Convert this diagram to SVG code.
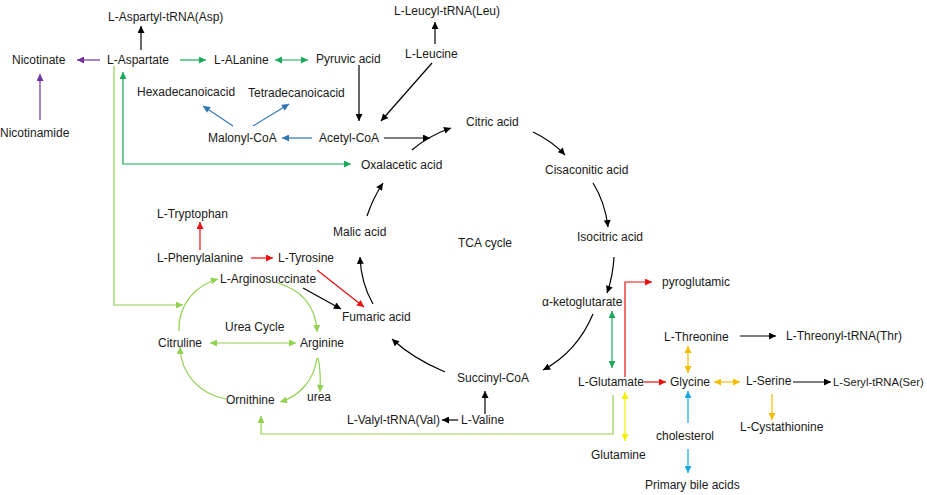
<svg xmlns="http://www.w3.org/2000/svg" width="927" height="495" viewBox="0 0 927 495">
<defs>
<style>
text{font-family:"Liberation Sans",Arial,sans-serif;font-size:12px;fill:#1a1a1a}
.c{fill:none;stroke-width:1.2}
.k{stroke:#000}.g{stroke:#1aa85a}.lg{stroke:#92d050}.p{stroke:#7030a0}.b{stroke:#2e75b6}.lb{stroke:#1aa8e0}.r{stroke:#e81010}.o{stroke:#f5bd00}.y{stroke:#f0f000}
</style>
<marker id="mk" viewBox="0 0 10 10" refX="10" refY="5" markerWidth="8" markerHeight="7" markerUnits="userSpaceOnUse" orient="auto-start-reverse"><path d="M0,0L10,5L0,10z" fill="#000"/></marker>
<marker id="mg" viewBox="0 0 10 10" refX="10" refY="5" markerWidth="8" markerHeight="7" markerUnits="userSpaceOnUse" orient="auto-start-reverse"><path d="M0,0L10,5L0,10z" fill="#1aa85a"/></marker>
<marker id="mlg" viewBox="0 0 10 10" refX="10" refY="5" markerWidth="8" markerHeight="7" markerUnits="userSpaceOnUse" orient="auto-start-reverse"><path d="M0,0L10,5L0,10z" fill="#92d050"/></marker>
<marker id="mp" viewBox="0 0 10 10" refX="10" refY="5" markerWidth="8" markerHeight="7" markerUnits="userSpaceOnUse" orient="auto-start-reverse"><path d="M0,0L10,5L0,10z" fill="#7030a0"/></marker>
<marker id="mb" viewBox="0 0 10 10" refX="10" refY="5" markerWidth="8" markerHeight="7" markerUnits="userSpaceOnUse" orient="auto-start-reverse"><path d="M0,0L10,5L0,10z" fill="#2e75b6"/></marker>
<marker id="mlb" viewBox="0 0 10 10" refX="10" refY="5" markerWidth="8" markerHeight="7" markerUnits="userSpaceOnUse" orient="auto-start-reverse"><path d="M0,0L10,5L0,10z" fill="#1aa8e0"/></marker>
<marker id="mr" viewBox="0 0 10 10" refX="10" refY="5" markerWidth="8" markerHeight="7" markerUnits="userSpaceOnUse" orient="auto-start-reverse"><path d="M0,0L10,5L0,10z" fill="#e81010"/></marker>
<marker id="mo" viewBox="0 0 10 10" refX="10" refY="5" markerWidth="8" markerHeight="7" markerUnits="userSpaceOnUse" orient="auto-start-reverse"><path d="M0,0L10,5L0,10z" fill="#f5bd00"/></marker>
<marker id="my" viewBox="0 0 10 10" refX="10" refY="5" markerWidth="8" markerHeight="7" markerUnits="userSpaceOnUse" orient="auto-start-reverse"><path d="M0,0L10,5L0,10z" fill="#f0f000"/></marker>
</defs>
<rect width="927" height="495" fill="#fff"/>
<g id="connectors">
<path class="c k" d="M141,50V26" marker-end="url(#mk)"/>
<path class="c p" d="M100,60H77" marker-end="url(#mp)"/>
<path class="c p" d="M40,120V74" marker-end="url(#mp)"/>
<path class="c g" d="M180,60H206" marker-end="url(#mg)"/>
<path class="c g" d="M275,60H308" marker-start="url(#mg)" marker-end="url(#mg)"/>
<path class="c k" d="M435,44V22" marker-end="url(#mk)"/>
<path class="c k" d="M359,65V121" marker-end="url(#mk)"/>
<path class="c k" d="M432,63L381,121" marker-end="url(#mk)"/>
<path class="c k" d="M384,138H430" marker-end="url(#mk)"/>
<path class="c k" d="M412,150Q428,136 451,128" marker-end="url(#mk)"/>
<path class="c b" d="M312,138H282" marker-end="url(#mb)"/>
<path class="c b" d="M233,126L203,106" marker-end="url(#mb)"/>
<path class="c b" d="M253,126L289,104" marker-end="url(#mb)"/>
<path class="c g" d="M123,72V164H351" marker-start="url(#mg)" marker-end="url(#mg)"/>
<path class="c lg" d="M114,66V305H183" marker-end="url(#mlg)"/>
<path class="c k" d="M533,132Q552,141 565,155" marker-end="url(#mk)"/>
<path class="c k" d="M593,183Q605,202 608,227" marker-end="url(#mk)"/>
<path class="c k" d="M614,257Q613,276 607,293" marker-end="url(#mk)"/>
<path class="c k" d="M593,314Q577,352 543,370" marker-end="url(#mk)"/>
<path class="c k" d="M445,372Q412,358 392,339" marker-end="url(#mk)"/>
<path class="c k" d="M373,304Q361,283 360,257" marker-end="url(#mk)"/>
<path class="c k" d="M367,216Q373,198 383,183" marker-end="url(#mk)"/>
<path class="c r" d="M200,250V222" marker-end="url(#mr)"/>
<path class="c r" d="M251,258H273" marker-end="url(#mr)"/>
<path class="c r" d="M317,270L364,307" marker-end="url(#mr)"/>
<path class="c k" d="M303,288L341,309" marker-end="url(#mk)"/>
<path class="c r" d="M625,377V282H652" marker-end="url(#mr)"/>
<path class="c r" d="M644,382H666" marker-end="url(#mr)"/>
<path class="c g" d="M612,311V368" marker-start="url(#mg)" marker-end="url(#mg)"/>
<path class="c k" d="M485,414V391" marker-end="url(#mk)"/>
<path class="c k" d="M458,420H442" marker-end="url(#mk)"/>
<path class="c lg" d="M613,395V434H261V416" marker-end="url(#mlg)"/>
<path class="c y" d="M625,392V441" marker-start="url(#my)" marker-end="url(#my)"/>
<path class="c o" d="M688,346V373" marker-start="url(#mo)" marker-end="url(#mo)"/>
<path class="c o" d="M714,382H740" marker-start="url(#mo)" marker-end="url(#mo)"/>
<path class="c o" d="M772,394V420" marker-end="url(#mo)"/>
<path class="c k" d="M740,336H776" marker-end="url(#mk)"/>
<path class="c k" d="M793,382H831" marker-end="url(#mk)"/>
<path class="c lb" d="M688,423V391" marker-end="url(#mlb)"/>
<path class="c lb" d="M688,449V473" marker-end="url(#mlb)"/>
<path class="c lg" d="M179,331C178,304 196,285 218,279" marker-end="url(#mlg)"/>
<path class="c lg" d="M277,283C300,289 316,305 317,332" marker-end="url(#mlg)"/>
<path class="c lg" d="M317,358C314,380 300,396 280,402" marker-end="url(#mlg)"/>
<path class="c lg" d="M226,399C200,394 181,375 180,347" marker-end="url(#mlg)"/>
<path class="c lg" d="M210,343H296" marker-start="url(#mlg)" marker-end="url(#mlg)"/>
<path class="c lg" d="M318,358Q321,370 320,392" marker-end="url(#mlg)"/>
</g>
<g id="n-aspartyl"><text x="108" y="21">L-Aspartyl-tRNA(Asp)</text></g>
<g id="n-nicotinate"><text x="12" y="64">Nicotinate</text></g>
<g id="n-aspartate"><text x="107" y="64">L-Aspartate</text></g>
<g id="n-alanine"><text x="214" y="64">L-ALanine</text></g>
<g id="n-pyruvic"><text x="316" y="63">Pyruvic acid</text></g>
<g id="n-leucyl"><text x="394" y="15">L-Leucyl-tRNA(Leu)</text></g>
<g id="n-leucine"><text x="405" y="58">L-Leucine</text></g>
<g id="n-hexa"><text x="137" y="96">Hexadecanoicacid</text></g>
<g id="n-tetra"><text x="248" y="97">Tetradecanoicacid</text></g>
<g id="n-nicotinamide"><text x="0" y="137">Nicotinamide</text></g>
<g id="n-malonyl"><text x="208" y="142">Malonyl-CoA</text></g>
<g id="n-acetyl"><text x="319" y="142">Acetyl-CoA</text></g>
<g id="n-citric"><text x="466" y="126">Citric acid</text></g>
<g id="n-oxal"><text x="361" y="169">Oxalacetic acid</text></g>
<g id="n-cisaconitic"><text x="545" y="174">Cisaconitic acid</text></g>
<g id="n-tryptophan"><text x="157" y="218">L-Tryptophan</text></g>
<g id="n-malic"><text x="333" y="236">Malic acid</text></g>
<g id="n-isocitric"><text x="577" y="241">Isocitric acid</text></g>
<g id="n-tca"><text x="458" y="247">TCA cycle</text></g>
<g id="n-phe"><text x="157" y="262">L-Phenylalanine</text></g>
<g id="n-tyr"><text x="278" y="262">L-Tyrosine</text></g>
<g id="n-argsucc"><text x="220" y="283">L-Arginosuccinate</text></g>
<g id="n-pyroglu"><text x="662" y="286">pyroglutamic</text></g>
<g id="n-fumaric"><text x="342" y="321">Fumaric acid</text></g>
<g id="n-akg"><text x="542" y="306">α-ketoglutarate</text></g>
<g id="n-urea-cycle"><text x="225" y="331">Urea Cycle</text></g>
<g id="n-citruline"><text x="158" y="347">Citruline</text></g>
<g id="n-arginine"><text x="300" y="347">Arginine</text></g>
<g id="n-threonine"><text x="664" y="341">L-Threonine</text></g>
<g id="n-threonyl"><text x="786" y="340">L-Threonyl-tRNA(Thr)</text></g>
<g id="n-succinyl"><text x="457" y="382">Succinyl-CoA</text></g>
<g id="n-glutamate"><text x="578" y="386">L-Glutamate</text></g>
<g id="n-glycine"><text x="670" y="386">Glycine</text></g>
<g id="n-serine"><text x="746" y="385">L-Serine</text></g>
<g id="n-seryl"><text x="833" y="386" style="font-size:11.2px">L-Seryl-tRNA(Ser)</text></g>
<g id="n-ornithine"><text x="226" y="404">Ornithine</text></g>
<g id="n-urea"><text x="307" y="401">urea</text></g>
<g id="n-valyl"><text x="347" y="424">L-Valyl-tRNA(Val)</text></g>
<g id="n-valine"><text x="461" y="424">L-Valine</text></g>
<g id="n-cholesterol"><text x="656" y="440">cholesterol</text></g>
<g id="n-cystathionine"><text x="740" y="431">L-Cystathionine</text></g>
<g id="n-glutamine"><text x="591" y="459">Glutamine</text></g>
<g id="n-bile"><text x="645" y="489">Primary bile acids</text></g>
</svg>
